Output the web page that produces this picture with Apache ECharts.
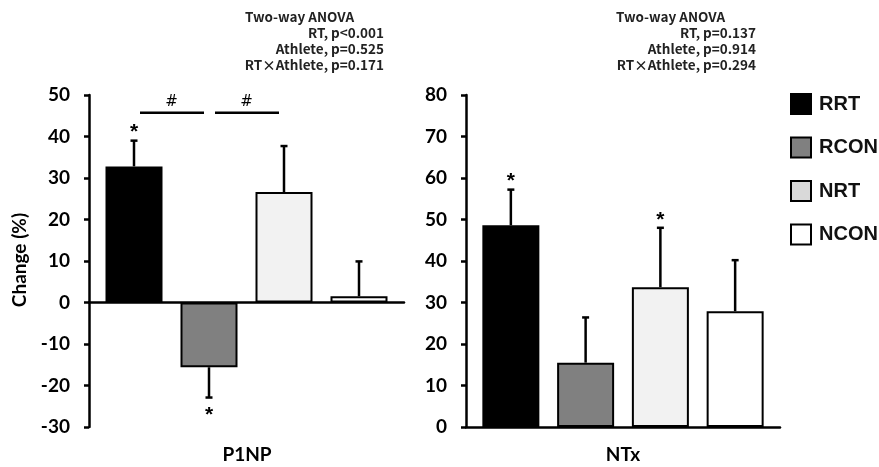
<!DOCTYPE html>
<html>
<head>
<meta charset="utf-8">
<script src="https://cdn.jsdelivr.net/npm/echarts@6/dist/echarts.min.js"></script>
<style>
html, body { margin: 0; padding: 0; background: #fff; }
#main { width: 879px; height: 467px; }
</style>
</head>
<body>
<div id="main"></div>
<script>
/* data */
var groups = ['RRT', 'RCON', 'NRT', 'NCON'];
var barColors = ['#000000', '#808080', '#f2f2f2', '#ffffff'];
var legendColors = ['#000000', '#808080', '#d9d9d9', '#ffffff'];

var p1npMean = [32.8, -15.6, 26.6, 1.5];
var p1npSD = [6.2, 7.3, 11.1, 8.4];
var p1npStar = [1, 1, 0, 0];
var p1npTicks = [-30, -20, -10, 0, 10, 20, 30, 40, 50];
var p1npHash = [[0, 1], [1, 2]];
var p1npHashLevel = 45.7;
var p1npAnova = ['RT, p<0.001', 'Athlete, p=0.525', 'RT\u00d7Athlete, p=0.171'];

var ntxMean = [48.6, 15.5, 33.7, 27.9];
var ntxSD = [8.6, 10.9, 14.3, 12.3];
var ntxStar = [1, 0, 1, 0];
var ntxTicks = [0, 10, 20, 30, 40, 50, 60, 70, 80];
var ntxAnova = ['RT, p=0.137', 'Athlete, p=0.914', 'RT\u00d7Athlete, p=0.294'];

var labelFont = 'Lato';
var annoFont = '"Noto Sans CJK JP"';

/* helpers */
function errorItem(params, api) {
    var x = api.value(0), m = api.value(1), sd = api.value(2), star = api.value(3);
    var dir = m < 0 ? -1 : 1;
    var base = api.coord([x, m]);
    var end = api.coord([x, m + dir * sd]);
    var kids = [
        {type: 'line', shape: {x1: base[0], y1: base[1], x2: end[0], y2: end[1]}, style: {stroke: '#000', lineWidth: 2.5}},
        {type: 'line', shape: {x1: end[0] - 3.5, y1: end[1], x2: end[0] + 3.5, y2: end[1]}, style: {stroke: '#000', lineWidth: 2.5}}
    ];
    if (star) {
        kids.push({
            type: 'text', x: end[0], y: dir > 0 ? end[1] - 8 : end[1] + 18,
            style: {text: '*', fontSize: 21, fontWeight: 'bold', fontFamily: 'Liberation Sans', fill: '#000',
                    textAlign: 'center', textVerticalAlign: 'middle'}
        });
    }
    return {type: 'group', children: kids};
}

function hashItem(params, api) {
    var a = api.coord([api.value(0), api.value(2)]);
    var b = api.coord([api.value(1), api.value(2)]);
    return {type: 'group', children: [
        {type: 'line', shape: {x1: a[0] + 6, y1: a[1], x2: b[0] - 5, y2: b[1]}, style: {stroke: '#000', lineWidth: 2.5}},
        {type: 'text', x: (a[0] + b[0]) / 2, y: a[1] - 11,
         style: {text: '#', fontSize: 15, fontFamily: 'DejaVu Sans', fill: '#000', textAlign: 'center', textVerticalAlign: 'middle'}}
    ]};
}

function yAxisFor(grid, ticks) {
    return {
        gridIndex: grid, type: 'value',
        min: ticks[0], max: ticks[ticks.length - 1], interval: ticks[1] - ticks[0],
        axisLine: {show: true, lineStyle: {color: '#000', width: 2.5}},
        axisTick: {show: true, length: 5, lineStyle: {color: '#000', width: 2.5}},
        axisLabel: {margin: 19, color: '#000', fontSize: 19, fontWeight: 'bold', fontFamily: labelFont},
        splitLine: {show: false}
    };
}

function xAxisFor(grid) {
    return {
        gridIndex: grid, type: 'value', min: 0.4, max: 4.6,
        axisLine: {show: true, onZero: true, lineStyle: {color: '#000', width: 2.5}},
        axisTick: {show: false}, axisLabel: {show: false}, splitLine: {show: false}
    };
}

var series = [];
[[p1npMean, p1npSD, p1npStar], [ntxMean, ntxSD, ntxStar]].forEach(function (set, g) {
    groups.forEach(function (name, i) {
        series.push({
            name: name, type: 'bar', xAxisIndex: g, yAxisIndex: g,
            barWidth: 57, barGap: '-100%',
            itemStyle: {color: barColors[i], borderColor: '#000', borderWidth: 2},
            data: [[i + 1, set[0][i]]],
            animation: false
        });
    });
    series.push({
        type: 'custom', xAxisIndex: g, yAxisIndex: g, clip: false, z: 5,
        renderItem: errorItem,
        data: set[0].map(function (m, i) { return [i + 1, m, set[1][i], set[2][i]]; }),
        animation: false
    });
});
series.push({
    type: 'custom', xAxisIndex: 0, yAxisIndex: 0, clip: false, z: 5,
    renderItem: hashItem,
    data: p1npHash.map(function (p) { return [p[0] + 1, p[1] + 1, p1npHashLevel]; }),
    animation: false
});

function anovaText(lines, left, right) {
    var out = [{type: 'text', left: left, top: 10,
        style: {text: 'Two-way ANOVA', fontSize: 13.5, fontWeight: 'bold', fontFamily: annoFont, fill: '#222'}}];
    lines.forEach(function (t, i) {
        out.push({type: 'text', right: 879 - right, top: 26 + i * 16.3,
            style: {text: t, fontSize: 13.5, fontWeight: 'bold', fontFamily: annoFont, fill: '#222'}});
    });
    return out;
}

var chart = echarts.init(document.getElementById('main'));
var option = {
    animation: false,
    grid: [
        {left: 89, top: 95, width: 315, height: 332},
        {left: 466, top: 95, width: 314, height: 332}
    ],
    xAxis: [xAxisFor(0), xAxisFor(1)],
    yAxis: [yAxisFor(0, p1npTicks), yAxisFor(1, ntxTicks)],
    legend: {
        orient: 'vertical', left: 785, top: 88,
        itemWidth: 20, itemHeight: 20, itemGap: 21.5,
        icon: 'rect',
        data: groups.map(function (n, i) {
            return {name: n, itemStyle: {color: legendColors[i], borderColor: '#000', borderWidth: 2}};
        }),
        textStyle: {fontSize: 20, fontWeight: 'bold', fontFamily: 'Liberation Sans', color: '#111',
                    lineHeight: 20, padding: [0, 0, 0, 3]},
        selectedMode: false
    },
    graphic: anovaText(p1npAnova, 245, 384).concat(anovaText(ntxAnova, 616, 756)).concat([
        {type: 'text', x: 20, y: 260, rotation: Math.PI / 2,
         style: {text: 'Change (%)', fontSize: 19, fontWeight: 'bold', fontFamily: labelFont, fill: '#000',
                 textAlign: 'center', textVerticalAlign: 'middle'}},
        {type: 'text', x: 247, y: 455,
         style: {text: 'P1NP', fontSize: 19, fontWeight: 'bold', fontFamily: labelFont, fill: '#000',
                 textAlign: 'center', textVerticalAlign: 'middle'}},
        {type: 'text', x: 623, y: 455,
         style: {text: 'NTx', fontSize: 19, fontWeight: 'bold', fontFamily: labelFont, fill: '#000',
                 textAlign: 'center', textVerticalAlign: 'middle'}}
    ]),
    series: series
};
chart.setOption(option);
</script>
</body>
</html>
